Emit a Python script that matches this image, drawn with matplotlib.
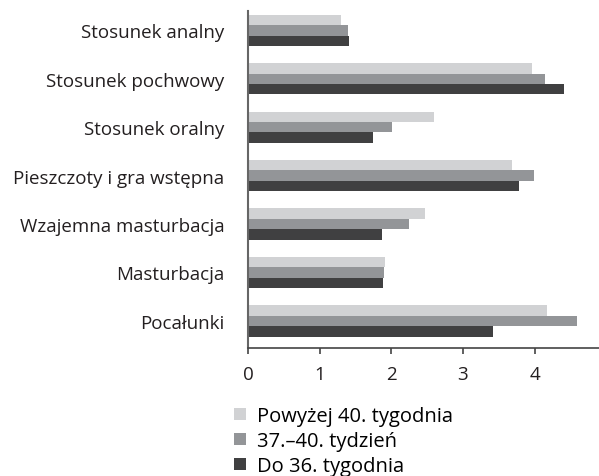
import matplotlib.pyplot as plt
import numpy as np

plt.rcParams['font.family'] = ['Open Sans', 'DejaVu Sans']

# categories listed bottom to top
categories = ["Pocałunki", "Masturbacja", "Wzajemna masturbacja",
              "Pieszczoty i gra wstępna", "Stosunek oralny",
              "Stosunek pochwowy", "Stosunek analny"]
series_names = ["Powyżej 40. tygodnia", "37.–40. tydzień", "Do 36. tygodnia"]
above_40 = [4.18, 1.91, 2.47, 3.68, 2.59, 3.96, 1.30]
week_37_40 = [4.59, 1.90, 2.25, 3.99, 2.01, 4.14, 1.39]
upto_36 = [3.42, 1.88, 1.87, 3.79, 1.74, 4.41, 1.41]
colors = ["#d1d2d4", "#939598", "#404041"]

fig = plt.figure(figsize=(5.99, 4.77), dpi=100)
ax = fig.add_axes([248 / 599, 1 - 349 / 477, 351 / 599, 337 / 477])

y = np.arange(len(categories))
h = 0.215
for i, (vals, name, c) in enumerate(zip([above_40, week_37_40, upto_36], series_names, colors)):
    ax.barh(y + (1 - i) * h, vals, height=h, color=c, label=name)

ax.set_xlim(0, 4.9)
ax.set_ylim(-0.56, 6.4)
ax.set_yticks(y)
ax.set_yticklabels(categories, fontsize=13.5, color="#231f20")
ax.tick_params(axis='y', length=0, pad=17)
ax.set_xticks([0, 1, 2, 3, 4])
ax.tick_params(axis='x', length=4, width=1.2, color="#444444", labelsize=13.5,
               labelcolor="#231f20", pad=8)
for s in ["top", "right"]:
    ax.spines[s].set_visible(False)
ax.spines["left"].set_color("#666666")
ax.spines["left"].set_linewidth(1.5)
ax.spines["bottom"].set_color("#444444")
ax.spines["bottom"].set_linewidth(1.2)

fig.legend(loc="upper left", bbox_to_anchor=(234 / 599, 1 - 407 / 477),
           frameon=False, fontsize=14.5, handlelength=0.6, handleheight=0.6,
           handletextpad=0.55, labelspacing=0.25, borderpad=0, borderaxespad=0)

fig.savefig("out.png", dpi=100)
